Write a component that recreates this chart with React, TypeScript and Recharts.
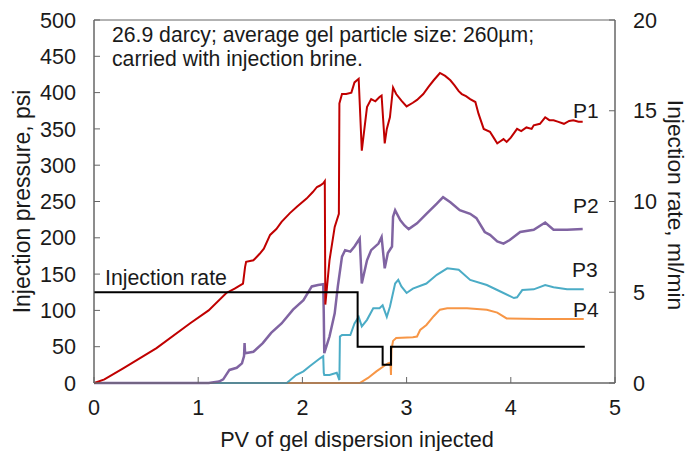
import React from 'react';
import { LineChart, Line, XAxis, YAxis, ReferenceArea } from 'recharts';

const xTicks = [0, 1, 2, 3, 4, 5];
const pressureTicks = [0, 50, 100, 150, 200, 250, 300, 350, 400, 450, 500];
const rateTicks = [0, 5, 10, 15, 20];

// P1 (x = PV, y = psi)
const p1: [number, number][] = [
  [0, 0], [0.1, 5], [0.28, 20], [0.6, 48], [0.92, 82], [1.1, 100], [1.27, 124], [1.35, 130], [1.43, 137],
  [1.45, 160], [1.46, 167], [1.53, 169], [1.59, 178], [1.63, 185], [1.69, 204], [1.75, 212], [1.8, 222],
  [1.88, 234], [1.95, 243], [2.04, 254], [2.1, 263], [2.14, 270], [2.17, 272], [2.2, 275], [2.215, 278],
  [2.22, 108], [2.26, 169], [2.31, 215], [2.35, 233], [2.355, 385], [2.38, 398], [2.42, 398], [2.47, 400],
  [2.5, 414], [2.54, 419], [2.57, 320], [2.62, 380], [2.66, 391], [2.7, 388], [2.74, 394], [2.76, 396],
  [2.79, 330], [2.81, 350], [2.84, 366], [2.87, 407], [2.9, 398], [2.95, 389], [3.0, 381], [3.06, 386],
  [3.1, 390], [3.16, 398], [3.21, 408], [3.26, 417], [3.32, 427], [3.37, 423], [3.42, 417], [3.46, 410],
  [3.5, 402], [3.53, 398], [3.57, 395], [3.61, 391], [3.66, 387], [3.69, 371], [3.74, 350], [3.8, 346],
  [3.84, 337], [3.87, 330], [3.9, 333], [3.93, 336], [3.96, 332], [4.0, 338], [4.06, 350], [4.1, 347],
  [4.15, 352], [4.2, 350], [4.22, 355], [4.28, 357], [4.33, 366], [4.37, 362], [4.41, 362], [4.45, 360],
  [4.51, 357], [4.56, 361], [4.6, 362], [4.65, 360], [4.69, 360],
];

const p2: [number, number][] = [
  [0, 0], [1.1, 0], [1.2, 2], [1.24, 5], [1.3, 18], [1.37, 21], [1.42, 27], [1.44, 37], [1.445, 55],
  [1.45, 41], [1.53, 43], [1.62, 55], [1.7, 69], [1.8, 82], [1.91, 101], [2.01, 114], [2.09, 133],
  [2.15, 135], [2.2, 136], [2.205, 96], [2.21, 41], [2.26, 64], [2.31, 96], [2.34, 133], [2.38, 174],
  [2.41, 183], [2.46, 181], [2.5, 188], [2.55, 199], [2.57, 137], [2.62, 169], [2.66, 183], [2.73, 192],
  [2.76, 201], [2.79, 158], [2.82, 179], [2.86, 188], [2.87, 229], [2.89, 238], [2.94, 224], [2.98, 217],
  [3.02, 212], [3.1, 220], [3.19, 233], [3.29, 247], [3.35, 256], [3.42, 249], [3.51, 238], [3.61, 233],
  [3.67, 227], [3.75, 208], [3.8, 204], [3.87, 195], [3.93, 192], [3.99, 197], [4.09, 208], [4.22, 211],
  [4.33, 221], [4.41, 211], [4.54, 211], [4.69, 212],
];

const p3: [number, number][] = [
  [0, 0], [1.85, 0], [1.94, 11], [2.01, 16], [2.07, 23], [2.17, 34], [2.2, 37], [2.205, 14], [2.21, 11],
  [2.26, 11], [2.33, 14], [2.355, 4], [2.36, 64], [2.38, 66], [2.46, 66], [2.5, 82], [2.54, 91],
  [2.57, 78], [2.62, 87], [2.68, 103], [2.74, 103], [2.77, 107], [2.81, 91], [2.84, 105], [2.89, 137],
  [2.92, 142], [2.95, 133], [3.0, 124], [3.06, 130], [3.19, 137], [3.29, 149], [3.39, 158], [3.5, 156],
  [3.61, 142], [3.77, 135], [3.9, 126], [4.03, 117], [4.06, 118], [4.11, 128], [4.22, 129], [4.33, 135],
  [4.41, 132], [4.54, 129], [4.7, 129],
];

const p4: [number, number][] = [
  [0, 0], [2.55, 0], [2.63, 7], [2.71, 16], [2.78, 23], [2.82, 27], [2.845, 28], [2.85, 11], [2.855, 46],
  [2.87, 58], [2.9, 62], [3.06, 63], [3.1, 64], [3.13, 73], [3.19, 80], [3.26, 92], [3.32, 101],
  [3.39, 103], [3.58, 103], [3.77, 101], [3.87, 97], [3.96, 89], [4.28, 88], [4.7, 88],
];

// Injection rate (ml/min), step changes
const rate: [number, number][] = [
  [0, 5], [2.53, 2], [2.77, 1], [2.85, 2], [4.71, 2],
];

const toData = (pts: [number, number][]) => pts.map(([x, y]) => ({ x, y }));

const FONT = '"Liberation Sans", Arial, sans-serif';
const TXT = '#1a1a1a';
const AX = '#666666';
const FS = 21.6;

export default function App() {
  const tickStyle = { fontSize: FS, fill: TXT, fontFamily: FONT };
  return (
    <div style={{ position: 'absolute', left: 0, top: 0, width: 690, height: 451, background: '#fff', fontFamily: FONT }}>
      <LineChart width={690} height={451} margin={{ top: 20, right: 30, bottom: 30, left: 30 }}>
        <XAxis
          type="number"
          dataKey="x"
          domain={[0, 5]}
          ticks={xTicks}
          allowDataOverflow
          stroke={AX}
          tick={tickStyle}
          tickSize={-6}
          tickMargin={23}
          height={38}
        />
        <YAxis
          yAxisId="left"
          type="number"
          domain={[0, 500]}
          ticks={pressureTicks}
          stroke={AX}
          tick={tickStyle}
          tickSize={-6}
          tickMargin={24}
          width={64}
        />
        <YAxis
          yAxisId="right"
          orientation="right"
          type="number"
          domain={[0, 20]}
          ticks={rateTicks}
          stroke={AX}
          tick={tickStyle}
          tickSize={-6}
          tickMargin={24}
          width={45}
        />
        <ReferenceArea yAxisId="left" x1={0} x2={5} y1={0} y2={500} fill="none" stroke={AX} strokeWidth={1} />
        <Line yAxisId="left" data={toData(p4)} dataKey="y" type="linear" stroke="#F79646" strokeWidth={2} dot={false} isAnimationActive={false} />
        <Line yAxisId="left" data={toData(p3)} dataKey="y" type="linear" stroke="#4BACC6" strokeWidth={2} dot={false} isAnimationActive={false} />
        <Line yAxisId="left" data={toData(p2)} dataKey="y" type="linear" stroke="#8064A2" strokeWidth={2.5} dot={false} isAnimationActive={false} />
        <Line yAxisId="left" data={toData(p1)} dataKey="y" type="linear" stroke="#C00000" strokeWidth={2} dot={false} isAnimationActive={false} />
        <Line yAxisId="right" data={toData(rate)} dataKey="y" type="stepAfter" stroke="#000000" strokeWidth={2} dot={false} isAnimationActive={false} />
      </LineChart>
      <svg width={690} height={451} style={{ position: 'absolute', left: 0, top: 0, pointerEvents: 'none' }} fontFamily={FONT} fill={TXT}>
        <text x={112} y={42} fontSize={21.2}>26.9 darcy; average gel particle size: 260µm;</text>
        <text x={112} y={65.5} fontSize={21.2}>carried with injection brine.</text>
        <text x={105} y={285} fontSize={21.3}>Injection rate</text>
        <text x={573} y={118} fontSize={21}>P1</text>
        <text x={573} y={213} fontSize={21}>P2</text>
        <text x={572} y={277} fontSize={21}>P3</text>
        <text x={573} y={317} fontSize={21}>P4</text>
        <text x={357} y={447} fontSize={21.7} textAnchor="middle">PV of gel dispersion injected</text>
        <text x={30} y={201.5} fontSize={23} textAnchor="middle" transform="rotate(-90 30 201.5)">Injection pressure, psi</text>
        <text x={668} y={205} fontSize={22.8} textAnchor="middle" transform="rotate(90 668 205)">Injection rate, ml/min</text>
      </svg>
    </div>
  );
}
